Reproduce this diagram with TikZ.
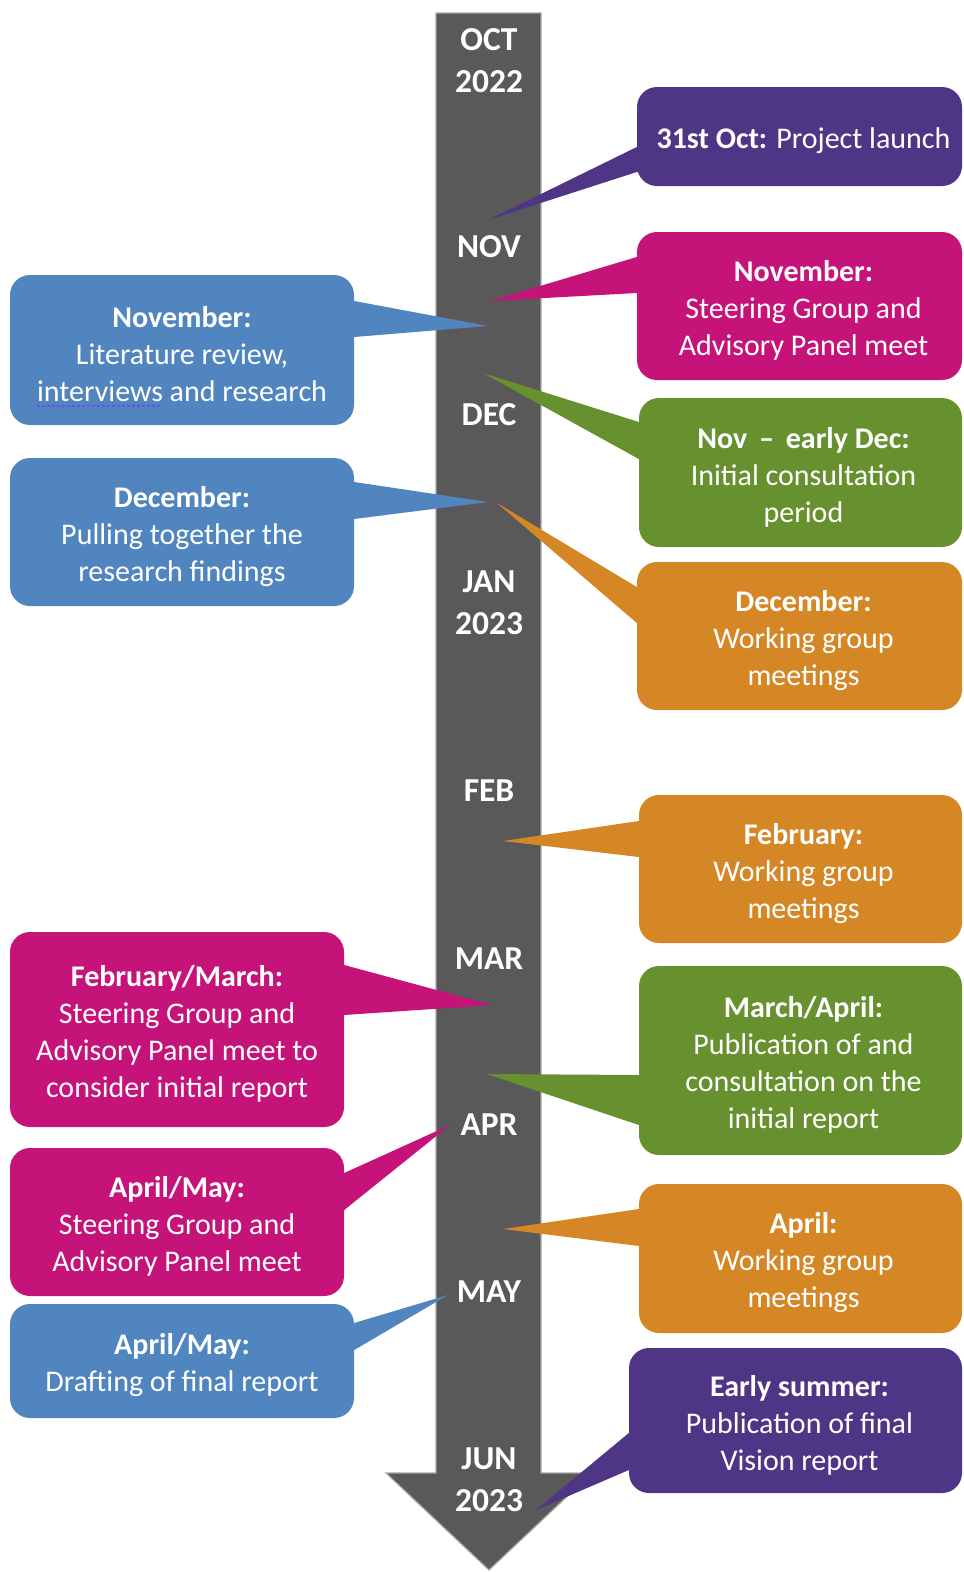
\documentclass[tikz,border=0pt]{standalone}
\usepackage{fontspec}
\setmainfont{Carlito}
\definecolor{cpurple}{HTML}{4F3586}
\definecolor{cmagenta}{HTML}{C5137A}
\definecolor{cgreen}{HTML}{67912F}
\definecolor{corange}{HTML}{D48724}
\definecolor{cblue}{HTML}{5085BF}
\definecolor{cbar}{HTML}{595959}
\definecolor{cedge}{HTML}{A6A6A6}
\definecolor{cspell}{HTML}{6F4CF5}
\newcommand\callptr[6]{\fill[#1] (#5) -- (#2 |- 0,#3) -- ++(#6,0) |- (#2 |- 0,#4) -- cycle;}
% name, colour, centre, width, height, text x-shift, text
\newcommand\cbox[7]{%
  \node[boxshape, fill=#2, minimum width=#4, minimum height=#5] (#1) at (#3) {};
  \node[boxtext] (#1-t) at ([xshift=#6,yshift=-4.5pt]#1.center) {#7};}
\begin{document}
\begin{tikzpicture}[x=1pt,y=-1pt,
  boxshape/.style={rounded corners=20pt, inner sep=0pt},
  boxtext/.style={inner sep=0pt, text=white, align=center, font=\fontsize{30}{37}\selectfont},
  month/.style={text=white, font=\bfseries\fontsize{33.5}{42}\selectfont, align=center, inner sep=0pt},
  bar/.style={fill=cbar, draw=cedge, line width=1.2pt}
]
\useasboundingbox (0,0) rectangle (964,1572);

% timeline arrow
\filldraw[bar] (436,13) -- (541,13) -- (541,1473) -- (592,1473) -- (489,1570) -- (386,1473) -- (436,1473) -- cycle;

% right boxes
\cbox{R1}{cpurple}{799.5,136.5}{325pt}{99pt}{4pt}{\textbf{31st Oct:} Project launch}
\cbox{R2}{cmagenta}{799.5,306}{325pt}{148pt}{4pt}{\textbf{November:}\\Steering Group and\\Advisory Panel meet}
\cbox{R3}{cgreen}{800.5,472.5}{323pt}{149pt}{3pt}{\textbf{Nov \,–\, early Dec:}\\Initial consultation\\period}
\cbox{R4}{corange}{799.5,636}{325pt}{148pt}{4pt}{\textbf{December:}\\Working group\\meetings}
\cbox{R5}{corange}{800.5,869}{323pt}{148pt}{3pt}{\textbf{February:}\\Working group\\meetings}
\cbox{R6}{cgreen}{800.5,1060.5}{323pt}{189pt}{3pt}{\textbf{March/April:}\\Publication of and\\consultation on the\\initial report}
\cbox{R7}{corange}{800.5,1258.5}{323pt}{149pt}{3pt}{\textbf{April:}\\Working group\\meetings}
\cbox{R8}{cpurple}{795.5,1420.5}{333pt}{145pt}{4pt}{\textbf{Early summer:}\\Publication of final\\Vision report}

% left boxes
\cbox{L1}{cblue}{182,350}{344pt}{150pt}{0pt}{\textbf{November:}\\Literature review,\\interviews and research}
\cbox{L2}{cblue}{182,532}{344pt}{148pt}{0pt}{\textbf{December:}\\Pulling together the\\research findings}
\cbox{L3}{cmagenta}{177,1029.5}{334pt}{195pt}{0pt}{\textbf{February/March:}\\Steering Group and\\Advisory Panel meet to\\consider initial report}
\cbox{L4}{cmagenta}{177,1222}{334pt}{148pt}{0pt}{\textbf{April/May:}\\Steering Group and\\Advisory Panel meet}
\cbox{L5}{cblue}{182,1361}{344pt}{114pt}{0pt}{\textbf{April/May:}\\Drafting of final report}

\draw[cspell, dash pattern=on 3pt off 2pt, line width=1.8pt] (37,406) -- (162,406);

% pointer tips
\coordinate (tR1) at (488,220);
\coordinate (tR2) at (490,301);
\coordinate (tR3) at (483,373);
\coordinate (tR4) at (497,503);
\coordinate (tR5) at (503,841);
\coordinate (tR6) at (487,1074);
\coordinate (tR7) at (503,1229);
\coordinate (tR8) at (536,1510);
\coordinate (tL1) at (488,326);
\coordinate (tL2) at (488,502);
\coordinate (tL3) at (492,1005);
\coordinate (tL4) at (450,1125);
\coordinate (tL5) at (448,1295);

% pointers
\callptr{cpurple}{R1.west}{147}{172}{tR1}{10}
\callptr{cmagenta}{R2.west}{257}{293}{tR2}{10}
\callptr{cgreen}{R3.west}{422}{459}{tR3}{10}
\callptr{corange}{R4.west}{587}{623}{tR4}{10}
\callptr{corange}{R5.west}{821}{857}{tR5}{10}
\callptr{cgreen}{R6.west}{1075}{1125}{tR6}{10}
\callptr{corange}{R7.west}{1209}{1246}{tR7}{10}
\callptr{cpurple}{R8.west}{1433}{1470}{tR8}{10}
\callptr{cblue}{L1.east}{301}{337}{tL1}{-10}
\callptr{cblue}{L2.east}{482}{519}{tL2}{-10}
\callptr{cmagenta}{L3.east}{965}{1015}{tL3}{-10}
\callptr{cmagenta}{L4.east}{1173}{1210}{tL4}{-10}
\callptr{cblue}{L5.east}{1323}{1350}{tL5}{-10}

% month labels
\node[month] (oct) at (489,61) {OCT\\2022};
\node[month] (nov) at (489,247) {NOV};
\node[month] (dec) at (489,415) {DEC};
\node[month] (jan) at (489,603) {JAN\\2023};
\node[month] (feb) at (489,791) {FEB};
\node[month] (mar) at (489,959) {MAR};
\node[month] (apr) at (489,1125) {APR};
\node[month] (may) at (489,1292) {MAY};
\node[month] (jun) at (489,1480) {JUN\\2023};
\end{tikzpicture}
\end{document}
